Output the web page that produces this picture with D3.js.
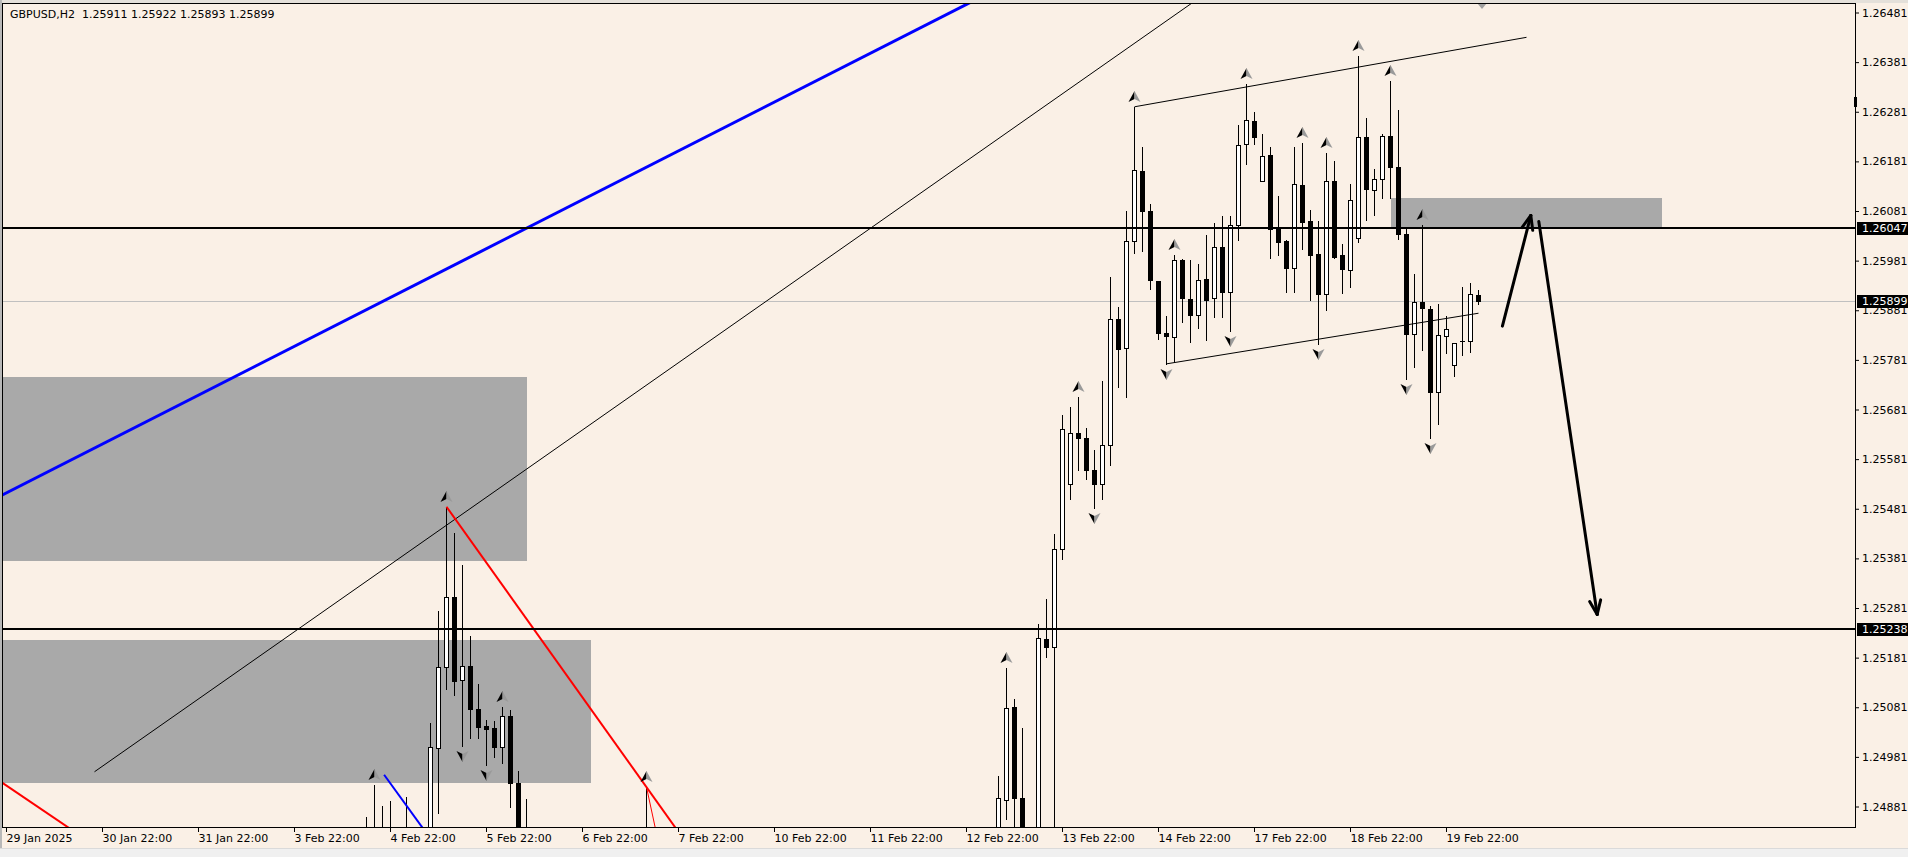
<!DOCTYPE html>
<html><head><meta charset="utf-8">
<script src="https://cdn.jsdelivr.net/npm/d3@7"></script>
<style>
body{margin:0;background:#FAF0E6;overflow:hidden}
svg{display:block}
text{font-family:"DejaVu Sans",sans-serif;font-size:11px}
</style>
</head><body>
<svg id="c" width="1908" height="857"></svg>
<script>
// ---------------- DATA ----------------
const symbolTitle = "GBPUSD,H2  1.25911 1.25922 1.25893 1.25899";

// bar index (H2 bars counted from 29 Jan 22:00) of every candle that reaches the visible price range
const barIndex = [0,45,46,47,48,50,53,54,55,56,57,58,59,60,61,62,63,64,65,80,118,
  124,125,126,127,129,130,131,132,133,134,135,136,137,138,139,140,141,142,143,144,145,146,147,148,149,
  150,151,152,153,154,155,156,157,158,159,160,161,162,163,164,165,166,167,168,169,170,171,172,173,174,
  175,176,177,178,179,180,181,182,183,184];
const openP = [1.24760,1.24780,1.24740,1.24780,1.24750,1.24730,1.24760,1.24998,1.25162,1.25303,1.25136,1.25164,1.25077,1.25043,1.25040,1.25000,1.25063,1.24928,1.24760,1.24700,1.24740,
  1.24780,1.24895,1.25081,1.24898,1.24760,1.25218,1.25203,1.25400,1.25530,1.25634,1.25623,1.25560,1.25530,1.25610,1.25863,1.25804,1.26021,1.26162,1.26081,1.25940,1.25835,1.25828,1.25982,1.25904,1.25871,
  1.25944,1.25905,1.26008,1.25918,1.26053,1.26217,1.26263,1.26141,1.26194,1.26046,1.26021,1.25967,1.26133,1.26061,1.25994,1.25913,1.26141,1.25992,1.25963,1.26026,1.26230,1.26123,1.26145,1.26232,1.26169,
  1.26034,1.25833,1.25897,1.25883,1.25716,1.25829,1.25771,1.25819,1.25819,1.25911];
const highP = [1.24800,1.24860,1.24924,1.24882,1.24893,1.24901,1.25049,1.25275,1.25485,1.25433,1.25368,1.25225,1.25128,1.25055,1.25054,1.25081,1.25075,1.24953,1.24897,1.24920,1.24800,
  1.24942,1.25161,1.25097,1.25039,1.25249,1.25300,1.25430,1.25670,1.25687,1.25707,1.25644,1.25600,1.25739,1.25949,1.25888,1.26080,1.26291,1.26209,1.26095,1.25940,1.25869,1.25992,1.25984,1.25982,1.25974,
  1.26033,1.26057,1.26070,1.26070,1.26254,1.26337,1.26281,1.26236,1.26209,1.26112,1.26023,1.26209,1.26219,1.26083,1.26061,1.26198,1.26182,1.26015,1.26135,1.26393,1.26268,1.26165,1.26236,1.26343,1.26285,
  1.26046,1.25955,1.26053,1.25890,1.25893,1.25869,1.25816,1.25928,1.25936,1.25922];
const lowP = [1.24720,1.24700,1.24700,1.24720,1.24700,1.24680,1.24740,1.24867,1.25118,1.25106,1.25002,1.25019,1.25019,1.24965,1.24980,1.24968,1.24881,1.24700,1.24680,1.24660,1.24700,
  1.24740,1.24855,1.24780,1.24720,1.24720,1.25183,1.24760,1.25380,1.25500,1.25560,1.25540,1.25482,1.25500,1.25570,1.25726,1.25707,1.25996,1.26001,1.25923,1.25824,1.25773,1.25777,1.25858,1.25818,1.25845,
  1.25822,1.25867,1.25868,1.25840,1.26023,1.26175,1.26216,1.26141,1.25986,1.25992,1.25918,1.25918,1.26004,1.25902,1.25813,1.25881,1.25986,1.25915,1.25927,1.26018,1.26063,1.26073,1.26107,1.26107,1.26024,
  1.25742,1.25766,1.25801,1.25624,1.25651,1.25795,1.25749,1.25791,1.25797,1.25893];
const closeP = [1.24740,1.24740,1.24780,1.24750,1.24730,1.24710,1.25000,1.25162,1.25303,1.25133,1.25165,1.25077,1.25042,1.25037,1.25000,1.25063,1.24928,1.24760,1.24720,1.24740,1.24770,
  1.24898,1.25079,1.24899,1.24780,1.25220,1.25203,1.25400,1.25641,1.25633,1.25623,1.25560,1.25530,1.25610,1.25863,1.25802,1.26021,1.26164,1.26080,1.25942,1.25835,1.25829,1.25982,1.25905,1.25871,1.25942,
  1.25902,1.26008,1.25918,1.26053,1.26215,1.26264,1.26230,1.26192,1.26044,1.26018,1.25967,1.26135,1.26059,1.25992,1.25913,1.26141,1.25989,1.25965,1.26103,1.26230,1.26125,1.26145,1.26232,1.26169,1.26034,
  1.25833,1.25897,1.25885,1.25716,1.25831,1.25843,1.25816,1.25819,1.25913,1.25899];

// fractal arrows
const fractalUpBars = [0,46,55,62,80,118,125,134,141,146,155,162,165,169,173,177];
const fractalDownBars = [57,60,136,145,153,164,175,178];

// price scale
const priceTicks = [1.26481,1.26381,1.26281,1.26181,1.26081,1.25981,1.25881,1.25781,1.25681,1.25581,
  1.25481,1.25381,1.25281,1.25181,1.25081,1.24981,1.24881];
// time scale
const timeTickBars = [0,12,24,36,48,60,72,84,96,108,120,132,144,156,168,180];
const timeTickLabels = ["29 Jan 2025","30 Jan 22:00","31 Jan 22:00","3 Feb 22:00","4 Feb 22:00","5 Feb 22:00",
  "6 Feb 22:00","7 Feb 22:00","10 Feb 22:00","11 Feb 22:00","12 Feb 22:00","13 Feb 22:00","14 Feb 22:00",
  "17 Feb 22:00","18 Feb 22:00","19 Feb 22:00"];

// horizontal levels
const levelPrices = [1.26047, 1.25238];
const bidPrice = 1.25899;

// rectangles (zones): bar from / bar to / upper price / lower price
const zoneFrom = [-2, -2, 173.1];
const zoneTo = [65.1, 73.1, 207];
const zoneHigh = [1.25747, 1.25217, 1.26107];
const zoneLow = [1.25376, 1.24929, 1.26047];

// trend lines: anchor bars / anchor prices ; ray = 0 none, 1 right only, 2 both ways
const tlBar1 = [0, 11, 55, 80, -2, 47.2, 141, 145];
const tlPrice1 = [1.25513, 1.24951, 1.25485, 1.24920, 1.24945, 1.24945, 1.26291, 1.25773];
const tlBar2 = [120.2, 124, 90, 82, 12, 53, 190, 184];
const tlPrice2 = [1.26499, 1.26227, 1.24694, 1.24770, 1.24792, 1.24816, 1.26431, 1.25875];
const tlRay = [2, 1, 0, 0, 0, 0, 0, 0];
const tlColor = ["#0000FF", "#000000", "#FF0000", "#FF0000", "#FF0000", "#0000FF", "#000000", "#000000"];
const tlWidth = [3, 1, 2, 1, 2, 2, 1, 1];

// hand-drawn projection arrows
const arBar1 = [187.05, 191.6];
const arPrice1 = [1.25849, 1.26060];
const arBar2 = [190.6, 198.9];
const arPrice2 = [1.26072, 1.25268];

// ---------------- LAYOUT ----------------
const W = 1908, H = 857;
const plotL = 3, plotT = 3, plotR = 1855, plotB = 827;
const bg = "#FAF0E6";

const x = d3.scaleLinear().domain([0, 184]).range([6, 6 + 8 * 184]);
const y = d3.scaleLinear().domain([1.26481, 1.24881]).range([12.5, 806.5]);

const svg = d3.select("#c");
svg.append("rect").attr("width", W).attr("height", H).attr("fill", bg);

const defs = svg.append("defs");
defs.append("clipPath").attr("id", "plot").append("rect")
  .attr("x", plotL).attr("y", plotT).attr("width", plotR - plotL).attr("height", plotB - plotT);

const plot = svg.append("g").attr("clip-path", "url(#plot)");

// zones
plot.append("g").selectAll("rect").data(zoneFrom).join("rect")
  .attr("x", (d, i) => Math.round(x(zoneFrom[i])))
  .attr("width", (d, i) => Math.round(x(zoneTo[i])) - Math.round(x(zoneFrom[i])))
  .attr("y", (d, i) => Math.round(y(zoneHigh[i])))
  .attr("height", (d, i) => Math.round(y(zoneLow[i])) - Math.round(y(zoneHigh[i])))
  .attr("fill", "#A9A9A9");

// bid line
plot.append("line").attr("x1", plotL).attr("x2", plotR)
  .attr("y1", Math.round(y(bidPrice)) + 0.5).attr("y2", Math.round(y(bidPrice)) + 0.5)
  .attr("stroke", "#C0C0C0").attr("stroke-width", 1);

// candles
const cg = plot.append("g").attr("shape-rendering", "crispEdges");
barIndex.forEach((b, i) => {
  const cx = Math.round(x(b));
  const yo = Math.round(y(openP[i])), yc = Math.round(y(closeP[i]));
  const yh = Math.round(y(highP[i])), yl = Math.round(y(lowP[i]));
  cg.append("line").attr("x1", cx + 0.5).attr("x2", cx + 0.5).attr("y1", yh).attr("y2", yl + 1)
    .attr("stroke", "#000").attr("stroke-width", 1);
  const top = Math.min(yo, yc), bot = Math.max(yo, yc);
  const bull = closeP[i] >= openP[i];
  if (bot - top < 1) {
    cg.append("line").attr("x1", cx - 2).attr("x2", cx + 3).attr("y1", top + 0.5).attr("y2", top + 0.5)
      .attr("stroke", "#000");
  } else {
    cg.append("rect").attr("x", cx - 1.5).attr("y", top + 0.5).attr("width", 4).attr("height", bot - top)
      .attr("fill", bull ? "#FFFFFF" : "#000000").attr("stroke", "#000").attr("stroke-width", 1);
  }
});

// trend lines
const lg = plot.append("g");
tlBar1.forEach((b, i) => {
  let b1 = tlBar1[i], p1 = tlPrice1[i], b2 = tlBar2[i], p2 = tlPrice2[i];
  const s = (p2 - p1) / (b2 - b1);
  if (tlRay[i] >= 1) { p2 = p1 + s * (260 - b1); b2 = 260; }
  if (tlRay[i] === 2) { p1 = p1 + s * (-20 - b1); b1 = -20; }
  lg.append("line").attr("x1", x(b1) + 0.5).attr("y1", y(p1)).attr("x2", x(b2) + 0.5).attr("y2", y(p2))
    .attr("stroke", tlColor[i]).attr("stroke-width", tlWidth[i]);
});

// horizontal levels
levelPrices.forEach(p => {
  const yy = Math.round(y(p));
  plot.append("line").attr("x1", plotL).attr("x2", plotR).attr("y1", yy).attr("y2", yy)
    .attr("stroke", "#000").attr("stroke-width", 2).attr("shape-rendering", "crispEdges");
});

// projection arrows
arBar1.forEach((b, i) => {
  const xa = x(arBar1[i]), ya = y(arPrice1[i]), xb = x(arBar2[i]), yb = y(arPrice2[i]);
  plot.append("line").attr("x1", xa).attr("y1", ya).attr("x2", xb).attr("y2", yb)
    .attr("stroke", "#000").attr("stroke-width", 3).attr("stroke-linecap", "round");
  const ang = Math.atan2(yb - ya, xb - xa);
  const L = 15, spread = 0.38;
  [ang + Math.PI - spread, ang + Math.PI + spread].forEach(a => {
    plot.append("line").attr("x1", xb).attr("y1", yb)
      .attr("x2", xb + L * Math.cos(a)).attr("y2", yb + L * Math.sin(a))
      .attr("stroke", "#000").attr("stroke-width", 3).attr("stroke-linecap", "round");
  });
});

// fractal arrows
function arrowGlyph(g, cx, cy, up) {
  const s = up ? 1 : -1;
  g.append("path").attr("d", `M${cx},${cy - 6 * s} L${cx - 6},${cy + 5 * s} L${cx},${cy + 2 * s} Z`).attr("fill", "#000");
  g.append("path").attr("d", `M${cx},${cy - 6 * s} L${cx + 6},${cy + 5 * s} L${cx},${cy + 2 * s} Z`).attr("fill", "#9A9A9A");
}
const fg = plot.append("g");
fractalUpBars.forEach(b => {
  const i = barIndex.indexOf(b);
  arrowGlyph(fg, Math.round(x(b)) + 0.5, Math.round(y(highP[i])) - 10, true);
});
fractalDownBars.forEach(b => {
  const i = barIndex.indexOf(b);
  arrowGlyph(fg, Math.round(x(b)) + 0.5, Math.round(y(lowP[i])) + 10, false);
});

// chart shift marker
plot.append("path").attr("d", `M${x(184) - 1},${plotT} L${x(184) + 9},${plotT} L${x(184) + 4},${plotT + 6} Z`)
  .attr("fill", "#A0A0A0");

// ---------------- FRAME ----------------
svg.append("rect").attr("x", 0).attr("y", 0).attr("width", W).attr("height", 3).attr("fill", "#E4E0DA");
svg.append("rect").attr("x", 0).attr("y", 0).attr("width", 2).attr("height", H).attr("fill", "#B8B8B8");
svg.append("rect").attr("x", 0).attr("y", 848).attr("width", W).attr("height", 9).attr("fill", "#F0F0F0");
svg.append("line").attr("x1", 0).attr("x2", W).attr("y1", 848.5).attr("y2", 848.5).attr("stroke", "#DADADA");
const fr = svg.append("g").attr("stroke", "#000").attr("stroke-width", 1).attr("shape-rendering", "crispEdges");
fr.append("line").attr("x1", 2).attr("x2", plotR + 1).attr("y1", plotT + 0.5).attr("y2", plotT + 0.5);
fr.append("line").attr("x1", 2.5).attr("x2", 2.5).attr("y1", plotT).attr("y2", plotB + 1);
fr.append("line").attr("x1", plotR + 0.5).attr("x2", plotR + 0.5).attr("y1", plotT).attr("y2", plotB + 1);
fr.append("line").attr("x1", 2).attr("x2", plotR + 1).attr("y1", plotB + 0.5).attr("y2", plotB + 0.5);
svg.append("rect").attr("x", plotR - 1).attr("y", 97).attr("width", 3).attr("height", 10).attr("fill", "#000");

// ---------------- AXES ----------------
const yAxis = d3.axisRight(y).tickValues(priceTicks).tickFormat(d3.format(".5f"))
  .tickSizeInner(4).tickSizeOuter(0).tickPadding(3);
const ya = svg.append("g").attr("transform", `translate(${plotR},0)`).call(yAxis);
ya.select(".domain").remove();
ya.selectAll("text").attr("font-size", 11).attr("font-family", "DejaVu Sans").attr("fill", "#000");
ya.selectAll("line").attr("stroke", "#000");

const xAxis = d3.axisBottom(x).tickValues(timeTickBars).tickFormat((d, i) => timeTickLabels[i])
  .tickSizeInner(5).tickSizeOuter(0).tickPadding(2);
const xa = svg.append("g").attr("transform", `translate(0,${plotB})`).call(xAxis);
xa.select(".domain").remove();
xa.selectAll("text").attr("font-size", 11).attr("font-family", "DejaVu Sans").attr("fill", "#000")
  .attr("text-anchor", "start").attr("x", 0);
xa.selectAll("line").attr("stroke", "#000");

// price labels
[...levelPrices, bidPrice].forEach(p => {
  const yy = Math.round(y(p));
  svg.append("rect").attr("x", plotR + 2).attr("y", yy - 6).attr("width", W - plotR - 2).attr("height", 13).attr("fill", "#000");
  svg.append("text").attr("x", plotR + 7).attr("y", yy + 0.5).attr("dominant-baseline", "central")
    .attr("fill", "#FFF").text(d3.format(".5f")(p));
});

// title
svg.append("text").attr("x", 10).attr("y", 18).attr("fill", "#000").style("white-space", "pre").text(symbolTitle);
</script>
</body></html>
